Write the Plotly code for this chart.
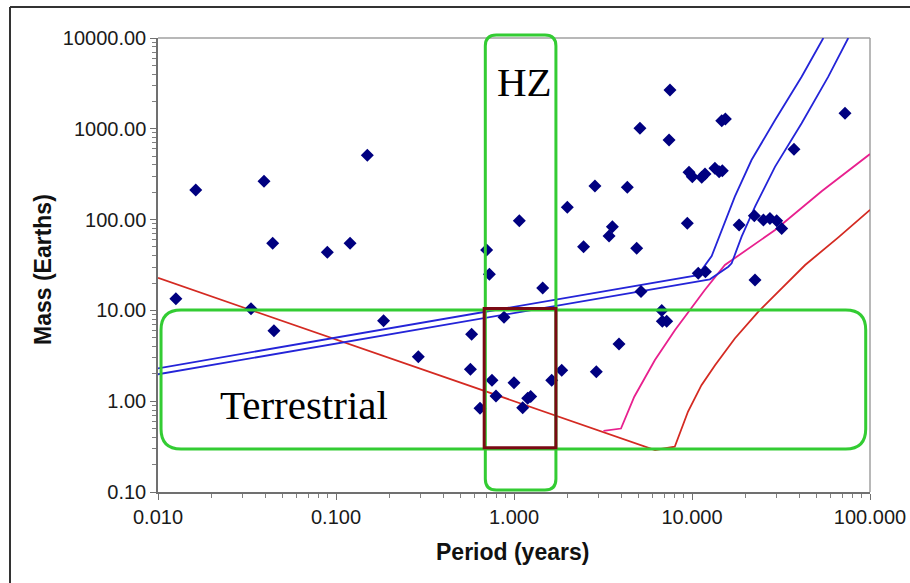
import math
import plotly.graph_objects as go

# ---------------- data ----------------
period = [0.0126, 0.0163, 0.0333, 0.0394, 0.0441, 0.0448, 0.0894, 0.120, 0.150, 0.185,
          0.290, 0.569, 0.578, 0.644, 0.702, 0.727, 0.752, 0.792, 0.879, 1.000,
          1.071, 1.119, 1.194, 1.241, 1.449, 1.629, 1.854, 1.993, 2.46, 2.85,
          2.90, 3.42, 3.57, 3.89, 4.33, 4.89, 5.10, 5.17, 6.76, 6.81,
          7.21, 7.43, 7.52, 9.41, 9.62, 10.04, 10.84, 11.34, 11.83, 11.9,
          13.45, 14.2, 14.7, 14.8, 15.4, 18.4, 22.4, 22.6, 25.2, 27.4,
          29.9, 31.9, 37.4, 72.4]
mass = [13.4, 212, 10.4, 264, 54.8, 5.98, 43.6, 54.8, 511, 7.7,
        3.09, 2.25, 5.45, 0.835, 46.3, 25.0, 1.70, 1.14, 8.4, 1.60,
        97.3, 0.849, 1.08, 1.13, 17.6, 1.70, 2.19, 136.6, 50.3, 234,
        2.11, 65.9, 83.5, 4.27, 227, 48.3, 1013, 16.1, 10.0, 7.6,
        7.6, 753, 2675, 91.0, 332, 297, 25.6, 292, 318, 26.7,
        367, 337, 1230, 346, 1280, 87.4, 110, 21.6, 99, 103,
        97, 80, 595, 1483]

red_x = [0.01, 6.2, 8.0, 9.5, 11.3, 13.5, 17.4, 23.6, 31.9, 43.2, 66.4, 100]
red_y = [22.8, 0.29, 0.315, 0.77, 1.5, 2.5, 4.9, 9.7, 17.5, 31.6, 63.8, 128]

pink_x = [3.18, 3.99, 4.74, 6.19, 8.03, 9.53, 11.8, 15.3, 29.3, 53.5, 100]
pink_y = [0.47, 0.50, 1.12, 2.84, 6.08, 9.68, 16.8, 31.6, 76.8, 205, 527]

blue1_x = [0.01, 10.8, 12.9, 14.7, 17.4, 21.6, 29.3, 41.3, 54.7]
blue1_y = [2.30, 24.5, 39.7, 76.8, 179, 453, 1250, 3750, 10000]

blue2_x = [0.01, 12.6, 16.0, 16.7, 19.0, 22.6, 29.3, 41.3, 58.3, 75.5]
blue2_y = [1.98, 22.0, 30.3, 33.0, 64.8, 139, 383, 1150, 3750, 10000]

hz_period = [0.69, 1.72]
hz_mass = [0.105, 10800]
terr_period = [0.0104, 94.6]
terr_mass = [0.298, 10.1]
core_period = [0.68, 1.72]
core_mass = [0.308, 10.5]

# ---------------- layout constants ----------------
W, H = 910, 583
ML, MR, MT, MB = 158, 40, 38, 91
PW, PH = W - ML - MR, H - MT - MB
XR = (-2, 2)
YR = (-1, 4)


def px(v):
    return (math.log10(v) - XR[0]) / (XR[1] - XR[0])


def py(v):
    return (math.log10(v) - YR[0]) / (YR[1] - YR[0])


def rounded(xs, ys, r):
    x0, x1 = px(xs[0]), px(xs[1])
    y0, y1 = py(ys[0]), py(ys[1])
    rx, ry = r / PW, r / PH
    return (f"M {x0+rx},{y1} L {x1-rx},{y1} Q {x1},{y1} {x1},{y1-ry} "
            f"L {x1},{y0+ry} Q {x1},{y0} {x1-rx},{y0} L {x0+rx},{y0} "
            f"Q {x0},{y0} {x0},{y0+ry} L {x0},{y1-ry} Q {x0},{y1} {x0+rx},{y1} Z")


fig = go.Figure()
line_w = 1.8
fig.add_trace(go.Scatter(x=red_x, y=red_y, mode="lines",
                         line=dict(color="#d42a22", width=line_w), hoverinfo="skip"))
fig.add_trace(go.Scatter(x=pink_x, y=pink_y, mode="lines",
                         line=dict(color="#e8208e", width=line_w), hoverinfo="skip"))
fig.add_trace(go.Scatter(x=blue1_x, y=blue1_y, mode="lines",
                         line=dict(color="#2424d8", width=line_w), hoverinfo="skip"))
fig.add_trace(go.Scatter(x=blue2_x, y=blue2_y, mode="lines",
                         line=dict(color="#2424d8", width=line_w), hoverinfo="skip"))
fig.add_trace(go.Scatter(x=period, y=mass, mode="markers",
                         marker=dict(symbol="diamond", size=10, color="#000080")))

green = "#33cc33"
shapes = [
    # gray top/right frame
    dict(type="line", xref="paper", yref="paper", x0=0, x1=1, y0=1, y1=1,
         line=dict(color="#a0a0a0", width=1.5), layer="below"),
    dict(type="line", xref="paper", yref="paper", x0=1, x1=1, y0=0, y1=1,
         line=dict(color="#a0a0a0", width=1.5), layer="below"),
    # outer figure frame (left + top)
    dict(type="line", xref="paper", yref="paper",
         x0=(10 - ML) / PW, x1=(10 - ML) / PW, y0=(MT + PH - H - 5) / PH, y1=(MT + PH - 7) / PH,
         line=dict(color="#333333", width=2)),
    dict(type="line", xref="paper", yref="paper",
         x0=(10 - ML) / PW, x1=(W + 5 - ML) / PW, y0=(MT + PH - 7) / PH, y1=(MT + PH - 7) / PH,
         line=dict(color="#333333", width=2)),
    dict(type="path", xref="paper", yref="paper", path=rounded(hz_period, hz_mass, 11),
         line=dict(color=green, width=3)),
    dict(type="path", xref="paper", yref="paper", path=rounded(terr_period, terr_mass, 20),
         line=dict(color=green, width=3)),
    dict(type="rect", xref="paper", yref="paper",
         x0=px(core_period[0]), x1=px(core_period[1]), y0=py(core_mass[0]), y1=py(core_mass[1]),
         line=dict(color="#7a0a14", width=3)),
]

annotations = [
    dict(text="HZ", xref="paper", yref="paper", x=(524 - ML) / PW, y=(MT + PH - 82) / PH,
         showarrow=False, font=dict(family="Liberation Serif", size=41, color="black"),
         xanchor="center", yanchor="middle"),
    dict(text="Terrestrial", xref="paper", yref="paper", x=(304 - ML) / PW, y=(MT + PH - 405) / PH,
         showarrow=False, font=dict(family="Liberation Serif", size=41, color="black"),
         xanchor="center", yanchor="middle"),
    dict(text="<b>Period (years)</b>", xref="paper", yref="paper", x=(512 - ML) / PW, y=(MT + PH - 552) / PH,
         showarrow=False, font=dict(family="Liberation Sans", size=23, color="#111"),
         xanchor="center", yanchor="middle"),
    dict(text="<b>Mass (Earths)</b>", xref="paper", yref="paper", x=(43 - ML) / PW, y=(MT + PH - 270) / PH,
         showarrow=False, textangle=-90, font=dict(family="Liberation Sans", size=23, color="#111"),
         xanchor="center", yanchor="middle"),
]

axis_common = dict(type="log", showgrid=False, zeroline=False, showline=True, automargin=False,
                   linecolor="#707070", linewidth=1.5, ticks="outside", ticklen=6,
                   tickcolor="#707070", tickwidth=1.2, dtick=1,
                   tickfont=dict(family="Liberation Sans", size=20, color="#1a1a1a"),
                   minor=dict(ticks="outside", ticklen=4, tickcolor="#808080", dtick="D1",
                              showgrid=False))

fig.update_layout(
    width=W, height=H,
    margin=dict(l=ML, r=MR, t=MT, b=MB),
    paper_bgcolor="white", plot_bgcolor="white",
    showlegend=False,
    xaxis=dict(range=list(XR), tickformat=".3f", **axis_common),
    yaxis=dict(range=list(YR), tickformat=".2f", **axis_common),
    shapes=shapes,
    annotations=annotations,
)

fig.write_html("out.html")
